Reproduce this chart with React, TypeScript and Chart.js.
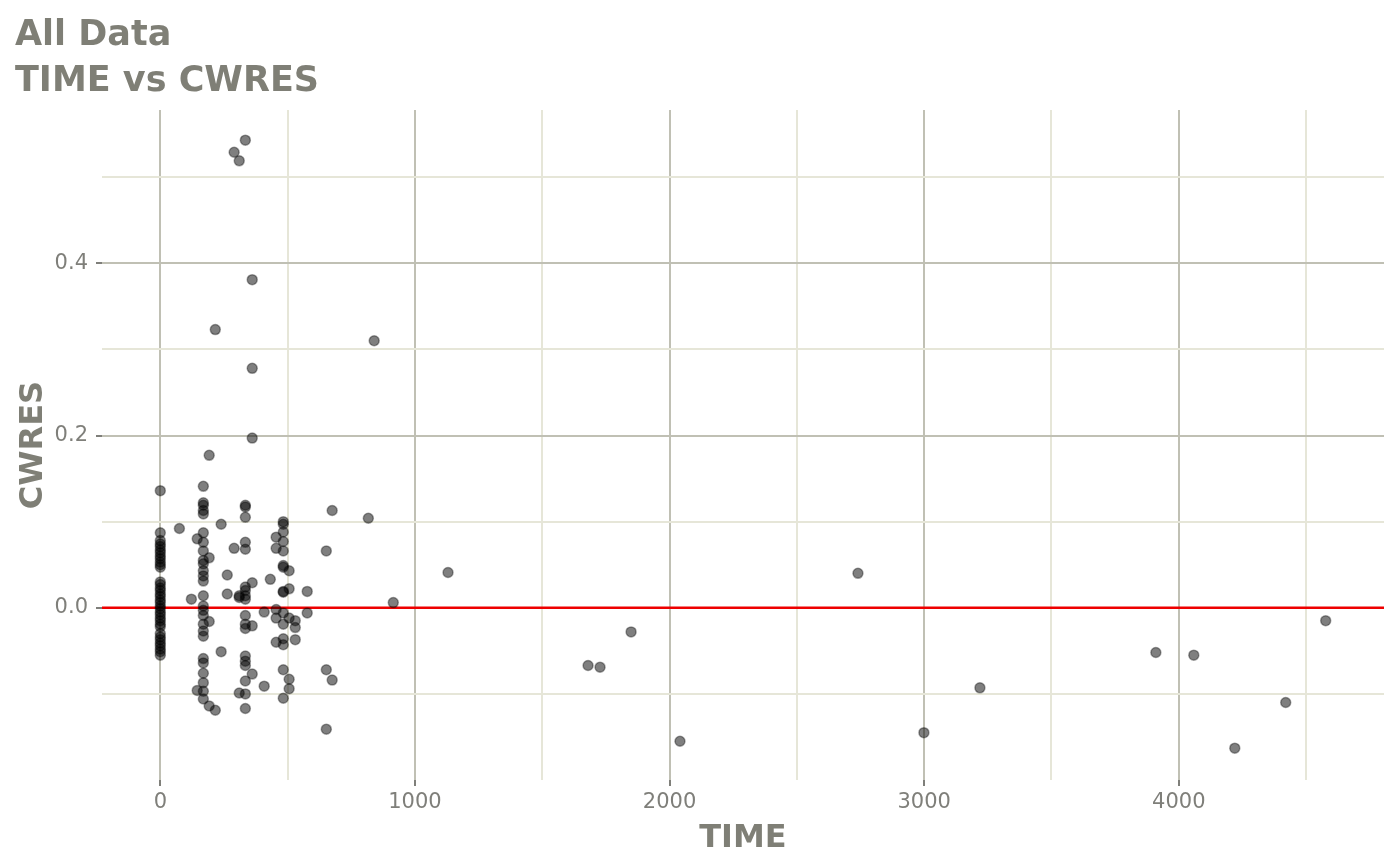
import React, { useEffect, useRef } from "react";
import { Chart, registerables } from "chart.js";

Chart.register(...registerables);

const TITLE_LINES = ["All Data", "TIME vs CWRES"];
const X_TITLE = "TIME";
const Y_TITLE = "CWRES";

const X_MAJOR = [0, 1000, 2000, 3000, 4000];
const X_MINOR = [500, 1500, 2500, 3500, 4500];
const Y_MAJOR = [0.0, 0.2, 0.4];
const Y_MINOR = [-0.1, 0.1, 0.3, 0.5];

const X_RANGE = [-229, 4806];
const Y_RANGE = [-0.2, 0.578];

// Observations: TIME and CWRES (parallel arrays)
const TIME = [
  // TIME = 0
  0, 0, 0, 0, 0, 0, 0, 0, 0, 0, 0, 0,
  0, 0, 0, 0, 0, 0, 0, 0, 0, 0, 0, 0,
  0, 0, 0, 0, 0, 0, 0, 0, 0, 0, 0, 0,
  75, 122, 145, 145,
  169, 169, 169, 169, 169, 169, 169, 169, 169, 169, 169, 169, 169,
  169, 169, 169, 169, 169, 169, 169, 169, 169, 169, 169, 169, 169,
  192, 192, 192, 192,
  216, 216,
  239, 239,
  263, 263,
  290, 290,
  310, 310, 310, 310,
  334, 334, 334, 334, 334, 334, 334, 334, 334, 334, 334, 334, 334, 334, 334, 334, 334, 334, 334,
  361, 361, 361, 361, 361, 361,
  408, 408,
  432,
  455, 455, 455, 455, 455,
  483, 483, 483, 483, 483, 483, 483, 483, 483, 483, 483, 483, 483, 483, 483,
  506, 506, 506, 506, 506,
  530, 530, 530,
  577, 577,
  652, 652, 652,
  675, 675,
  817, 840, 915, 1130, 1680, 1727, 1849, 2041, 2740, 2999, 3219, 3910, 4059, 4220, 4420, 4577,
];

const CWRES = [
  // TIME = 0
  0.136, 0.087, 0.078, 0.074, 0.071, 0.067, 0.064, 0.060, 0.057, 0.053, 0.050, 0.047,
  0.030, 0.027, 0.023, 0.020, 0.016, 0.013, 0.009, 0.006, 0.002, -0.001, -0.005, -0.008,
  -0.012, -0.015, -0.019, -0.022, -0.030, -0.034, -0.037, -0.041, -0.044, -0.048, -0.051, -0.055,
  0.092, 0.010, 0.080, -0.096,
  0.141, 0.122, 0.119, 0.113, 0.109, 0.087, 0.076, 0.066, 0.055, 0.051, 0.043, 0.037, 0.031,
  0.014, 0.002, -0.003, -0.009, -0.019, -0.027, -0.033, -0.059, -0.064, -0.076, -0.087, -0.097, -0.106,
  0.177, 0.058, -0.016, -0.114,
  0.323, -0.119,
  0.097, -0.051,
  0.038, 0.016,
  0.529, 0.069,
  0.519, 0.014, 0.012, -0.099,
  0.543, 0.119, 0.117, 0.105, 0.076, 0.068, 0.024, 0.020, 0.014, 0.010, -0.009, -0.019, -0.024, -0.056, -0.062, -0.067, -0.085, -0.100, -0.117,
  0.381, 0.278, 0.197, 0.029, -0.021, -0.077,
  -0.005, -0.091,
  0.033,
  0.082, 0.069, -0.002, -0.012, -0.040,
  0.100, 0.097, 0.088, 0.077, 0.066, 0.049, 0.047, 0.019, 0.018, -0.006, -0.019, -0.036, -0.043, -0.072, -0.105,
  0.043, 0.022, -0.012, -0.083, -0.094,
  -0.015, -0.023, -0.037,
  0.019, -0.006,
  0.066, -0.072, -0.141,
  0.113, -0.084,
  0.104, 0.310, 0.006, 0.041, -0.067, -0.069, -0.028, -0.155, 0.040, -0.145, -0.093, -0.052, -0.055, -0.163, -0.110, -0.015,
];

const REF_LINE_Y = 0;

const TEXT_COLOR = "#7f7f76";
const TICK_COLOR = "#7f7f7a";
const MAJOR_GRID = "#c0c0b4";
const MINOR_GRID = "#e6e6d8";

const near = (a: number, b: number) => Math.abs(a - b) < 1e-9;
const isIn = (list: number[], v: number) => list.some((m) => near(m, v));

const titlesPlugin = {
  id: "customTitles",
  afterDraw(chart: any) {
    const { ctx, chartArea } = chart;
    ctx.save();
    ctx.fillStyle = TEXT_COLOR;
    ctx.textBaseline = "alphabetic";
    ctx.textAlign = "left";
    ctx.font = 'bold 35px "DejaVu Sans"';
    ctx.fillText(TITLE_LINES[0], 15, 45);
    ctx.fillText(TITLE_LINES[1], 15, 91);
    ctx.font = 'bold 32px "DejaVu Sans"';
    ctx.textAlign = "center";
    ctx.fillText(X_TITLE, (chartArea.left + chartArea.right) / 2, 847);
    ctx.translate(42, (chartArea.top + chartArea.bottom) / 2);
    ctx.rotate(-Math.PI / 2);
    ctx.fillText(Y_TITLE, 0, 0);
    ctx.restore();
  },
};

export default function App() {
  const ref = useRef<HTMLCanvasElement | null>(null);

  useEffect(() => {
    if (!ref.current) return;
    const points = TIME.map((t, i) => ({ x: t, y: CWRES[i] }));
    const chart = new Chart(ref.current, {
      type: "scatter",
      data: {
        datasets: [
          {
            type: "scatter",
            label: "CWRES",
            data: points,
            backgroundColor: "rgba(0,0,0,0.5)",
            borderColor: "rgba(0,0,0,0.35)",
            borderWidth: 1.5,
            pointRadius: 5,
            order: 1,
          },
          {
            type: "line",
            label: "ref",
            data: [
              { x: X_RANGE[0], y: REF_LINE_Y },
              { x: X_RANGE[1], y: REF_LINE_Y },
            ],
            borderColor: "#ee0000",
            borderWidth: 2.5,
            pointRadius: 0,
            fill: false,
            order: 2,
          } as any,
        ],
      },
      options: {
        responsive: false,
        animation: false,
        layout: { padding: { top: 110, right: 16, left: 0, bottom: 0 } },
        plugins: {
          legend: { display: false },
          tooltip: { enabled: false },
          title: { display: false },
        },
        scales: {
          x: {
            type: "linear",
            min: X_RANGE[0],
            max: X_RANGE[1],
            afterBuildTicks: (scale: any) => {
              scale.ticks = [...X_MAJOR, ...X_MINOR]
                .sort((a, b) => a - b)
                .map((v) => ({ value: v }));
            },
            afterFit: (scale: any) => {
              scale.height = 85;
            },
            ticks: {
              autoSkip: false,
              maxRotation: 0,
              padding: 4,
              color: TICK_COLOR,
              font: { family: "DejaVu Sans", size: 21 },
              callback: (v: any) => (isIn(X_MAJOR, Number(v)) ? String(v) : ""),
            },
            grid: {
              color: (c: any) => (isIn(X_MAJOR, c.tick?.value) ? MAJOR_GRID : MINOR_GRID),
              lineWidth: 2,
              tickColor: (c: any) => (isIn(X_MAJOR, c.tick?.value) ? TICK_COLOR : "rgba(0,0,0,0)"),
              tickLength: 6,
              tickWidth: 2,
            },
            border: { display: false },
          },
          y: {
            type: "linear",
            min: Y_RANGE[0],
            max: Y_RANGE[1],
            afterBuildTicks: (scale: any) => {
              scale.ticks = [...Y_MAJOR, ...Y_MINOR]
                .sort((a, b) => a - b)
                .map((v) => ({ value: v }));
            },
            afterFit: (scale: any) => {
              scale.width = 102;
            },
            ticks: {
              autoSkip: false,
              padding: 8,
              color: TICK_COLOR,
              font: { family: "DejaVu Sans", size: 21 },
              callback: (v: any) => (isIn(Y_MAJOR, Number(v)) ? Number(v).toFixed(1) : ""),
            },
            grid: {
              color: (c: any) => (isIn(Y_MAJOR, c.tick?.value) ? MAJOR_GRID : MINOR_GRID),
              lineWidth: 2,
              tickColor: (c: any) => (isIn(Y_MAJOR, c.tick?.value) ? TICK_COLOR : "rgba(0,0,0,0)"),
              tickLength: 6,
              tickWidth: 2,
            },
            border: { display: false },
          },
        },
      },
      plugins: [titlesPlugin],
    });
    return () => chart.destroy();
  }, []);

  return (
    <div style={{ position: "fixed", left: 0, top: 0, width: 1400, height: 865, background: "#ffffff" }}>
      <canvas ref={ref} width={1400} height={865} style={{ display: "block" }} />
    </div>
  );
}
